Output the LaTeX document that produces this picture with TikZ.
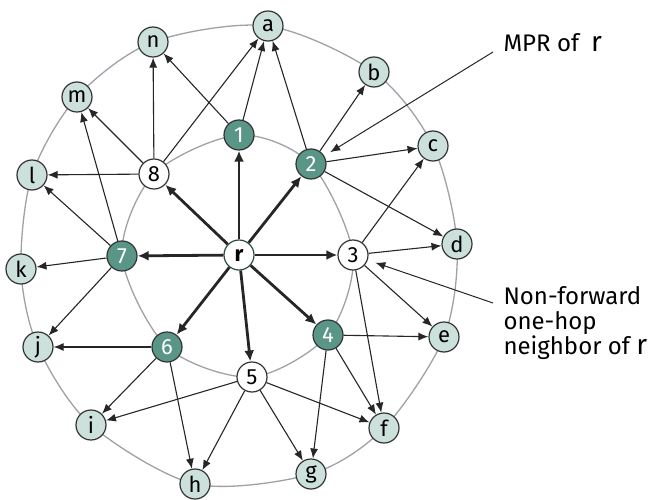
\documentclass[tikz,border=0pt]{standalone}
\usepackage{fontspec}
\setmainfont{Fira Sans}
\usetikzlibrary{arrows.meta,backgrounds}
\definecolor{mprfill}{RGB}{90,150,135}
\definecolor{hopfill}{RGB}{205,225,220}
\definecolor{ringgray}{RGB}{160,160,168}
\newcommand{\rootname}{{\fontsize{28}{28}\selectfont r}}
\begin{document}
\begin{tikzpicture}[x=1pt,y=-1pt,
	twohop/.style={circle,draw=black!80,fill=hopfill,minimum size=30pt,inner sep=0pt,line width=1.2pt,font=\fontsize{22}{24}\selectfont},
	mpr/.style={twohop,fill=mprfill,text=white},
	onehop/.style={twohop,fill=white},
	root/.style={onehop,draw=mprfill!50!black,font=\bfseries\fontsize{22}{24}\selectfont},
	hop/.style={-{Latex[length=10pt,width=8pt]},line width=1.1pt,black!85},
	first/.style={-{Latex[length=11pt,width=10pt]},line width=2.8pt,black!85},
	ring/.style={ringgray,line width=1.3pt},
	note/.style={font=\fontsize{24}{25}\selectfont,align=left}]
	\useasboundingbox (0,0) rectangle (653,500);
	
	%SOURCE AND ONE-HOP NEIGHBORS
	\node[root] (r) at (239,255) {r};
	\node[mpr] (1) at (239,135) {1};
	\node[mpr] (2) at (311,164) {2};
	\node[onehop] (3) at (353,255) {3};
	\node[mpr] (4) at (328,335) {4};
	\node[onehop] (5) at (252,377) {5};
	\node[mpr] (6) at (167,347) {6};
	\node[mpr] (7) at (122,256) {7};
	\node[onehop] (8) at (154,174) {8};
	
	%TWO-HOP NEIGHBORS
	\node[twohop] (a) at (268,26) {a};
	\node[twohop] (b) at (374,72) {b};
	\node[twohop] (c) at (433,146) {c};
	\node[twohop] (d) at (457,244) {d};
	\node[twohop] (e) at (444,337) {e};
	\node[twohop] (f) at (384,428) {f};
	\node[twohop] (g) at (311,474) {g};
	\node[twohop] (h) at (195,484) {h};
	\node[twohop] (i) at (91,425) {i};
	\node[twohop] (j) at (38,347) {j};
	\node[twohop] (k) at (21,269) {k};
	\node[twohop] (l) at (32,175) {l};
	\node[twohop] (m) at (77,97) {m};
	\node[twohop] (n) at (153,42) {n};
	
	%RINGS
	\begin{scope}[on background layer]
		\draw[ring] plot[smooth cycle] coordinates {(a) (b) (c) (d) (e) (f) (g) (h) (i) (j) (k) (l) (m) (n)};
		\draw[ring] plot[smooth cycle] coordinates {(1) (2) (3) (4) (5) (6) (7) (8)};
	\end{scope}
	
	%ARROWS
	\foreach \t in {1,...,8}
		\draw[first] (r) -- (\t);
	\foreach \s/\t in {1/a,1/n,2/a,2/b,2/c,2/d,3/c,3/d,3/e,3/f,4/e,4/f,4/g,5/f,5/g,5/h,5/i,6/h,6/i,6/j,7/j,7/k,7/l,7/m,8/l,8/m,8/n,8/a}
		\draw[hop] (\s) -- (\t);
	
	%LABELS
	\node[note,anchor=west] (mprlbl) at (500,43) {MPR of\enspace\rootname};
	\coordinate (mprtail) at (493,52);
	\draw[hop,line width=1pt,shorten >=7pt] (mprtail) -- (2);
	\node[note,anchor=north west] (nflbl) at (500,283) {Non-forward\\one-hop\\neighbor of \rootname};
	\coordinate (nftail) at (493,303);
	\draw[hop,line width=1pt,shorten >=8pt] (nftail) -- (3);
\end{tikzpicture}
\end{document}
